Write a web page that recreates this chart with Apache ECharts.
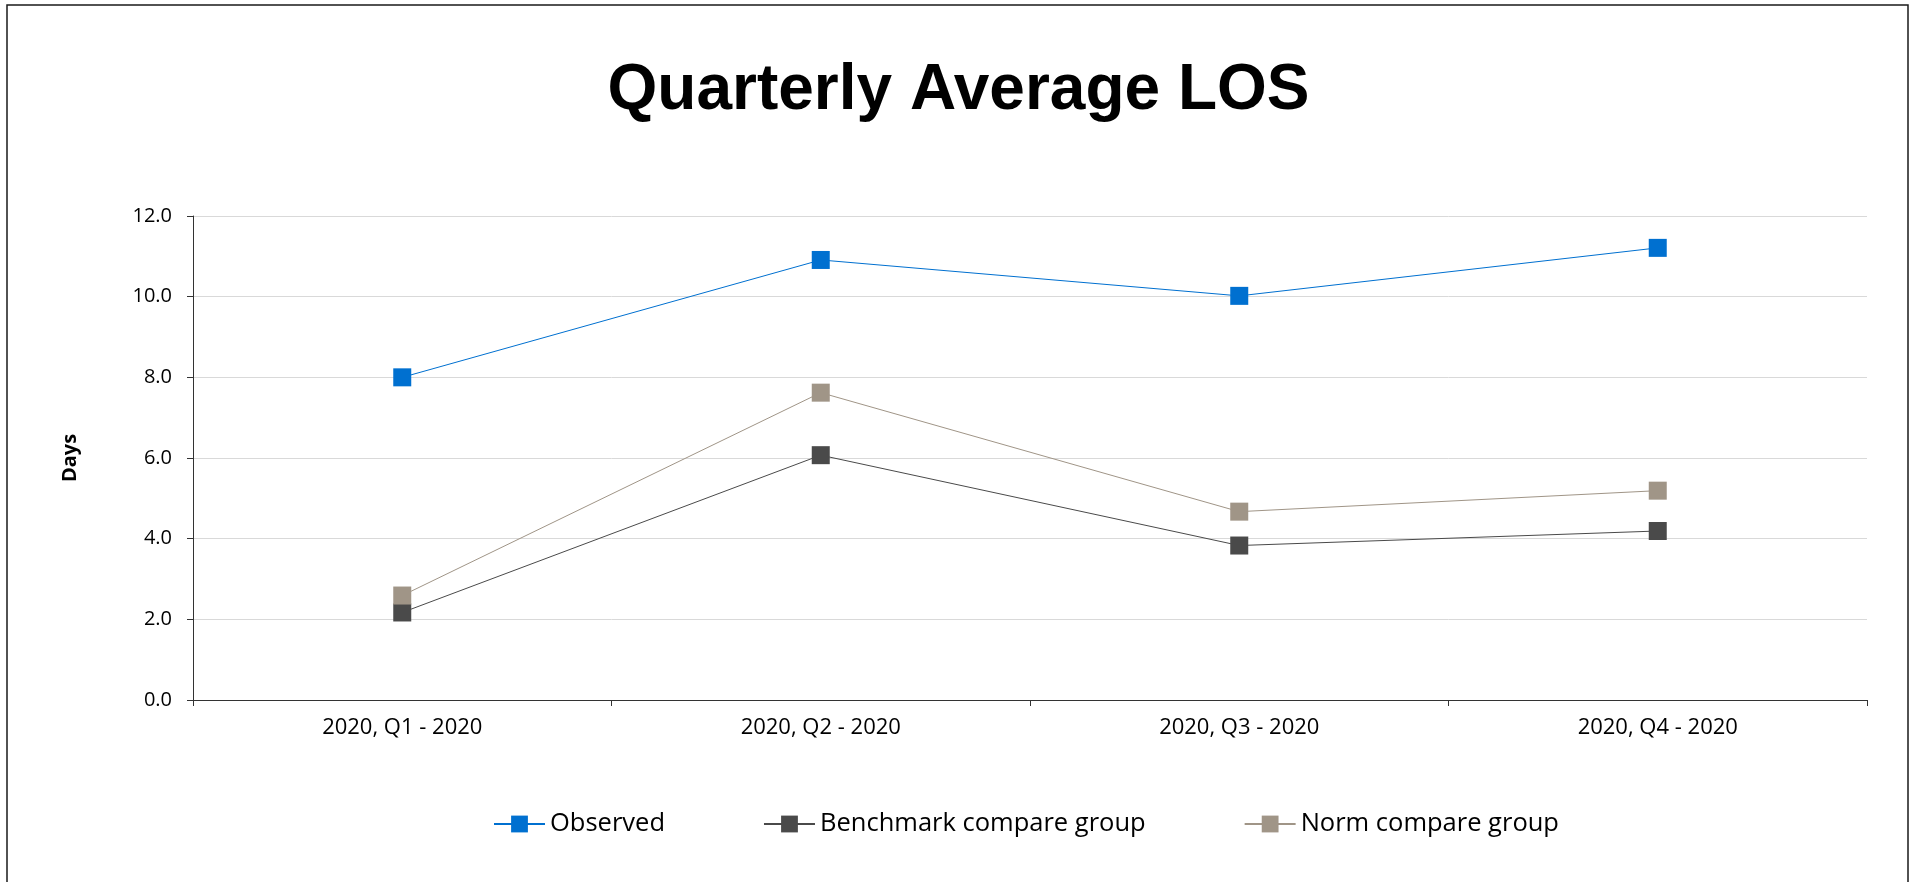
<!DOCTYPE html>
<html>
<head>
<meta charset="utf-8">
<title>Quarterly Average LOS</title>
<script src="https://cdn.jsdelivr.net/npm/echarts@6/dist/echarts.min.js"></script>
<style>
  html, body { margin: 0; padding: 0; background: #fff; }
  #chart { width: 1917px; height: 882px; }
</style>
</head>
<body>
<div id="chart"></div>
<script>
  // categories along the x axis
  const quarters = ["2020, Q1 - 2020", "2020, Q2 - 2020", "2020, Q3 - 2020", "2020, Q4 - 2020"];

  // average length of stay, in days
  const observed = [8.0, 10.91, 10.02, 11.21];
  const benchmarkGroup = [2.17, 6.07, 3.83, 4.19];
  const normGroup = [2.59, 7.62, 4.67, 5.19];

  const chartDom = document.getElementById("chart");
  const chart = echarts.init(chartDom);

  function lineSeries(name, data, color) {
    return {
      name: name,
      type: "line",
      data: data,
      symbol: "rect",
      symbolSize: 18,
      showAllSymbol: true,
      itemStyle: { color: color },
      lineStyle: { color: color, width: 1 },
      emphasis: { disabled: true }
    };
  }

  const option = {
    animation: false,
    backgroundColor: "#ffffff",
    title: {
      text: "Quarterly Average LOS",
      left: "center",
      top: 54,
      textStyle: {
        fontFamily: "Liberation Sans",
        fontWeight: "bold",
        fontSize: 64,
        color: "#000"
      }
    },
    graphic: [
      {
        // outer frame around the chart
        type: "rect",
        silent: true,
        shape: { x: 7, y: 5, width: 1901, height: 900 },
        style: { fill: "none", stroke: "#1a1a1a", lineWidth: 1.5 }
      }
    ],
    legend: {
      left: 488,
      top: 806,
      itemWidth: 51,
      itemHeight: 21,
      itemGap: 98,
      textStyle: { fontFamily: "Open Sans", fontSize: 25.5, color: "#000" },
      data: ["Observed", "Benchmark compare group", "Norm compare group"]
    },
    grid: { left: 193, right: 50, top: 216, bottom: 182, containLabel: false },
    xAxis: {
      type: "category",
      data: quarters,
      boundaryGap: true,
      axisLine: { lineStyle: { color: "#333", width: 1 } },
      axisTick: { show: true, length: 6, lineStyle: { color: "#333" } },
      axisLabel: { fontFamily: "Open Sans", fontSize: 22, color: "#000", margin: 17 },
      splitLine: { show: false }
    },
    yAxis: {
      type: "value",
      min: 0,
      max: 12,
      interval: 2,
      name: "Days",
      nameLocation: "middle",
      nameGap: 113,
      nameTextStyle: { fontFamily: "Open Sans", fontWeight: "bold", fontSize: 20, color: "#000" },
      axisLine: { show: true, lineStyle: { color: "#333", width: 1 } },
      axisTick: { show: true, length: 6, lineStyle: { color: "#333" } },
      axisLabel: {
        fontFamily: "Open Sans",
        fontSize: 20,
        color: "#000",
        margin: 21,
        formatter: v => v.toFixed(1)
      },
      splitLine: { lineStyle: { color: "#d9d9d9", width: 1 } }
    },
    series: [
      lineSeries("Observed", observed, "#0070d0"),
      lineSeries("Benchmark compare group", benchmarkGroup, "#4a4a4a"),
      lineSeries("Norm compare group", normGroup, "#a09587")
    ]
  };

  chart.setOption(option);
  window.addEventListener("resize", () => chart.resize());
</script>
</body>
</html>
